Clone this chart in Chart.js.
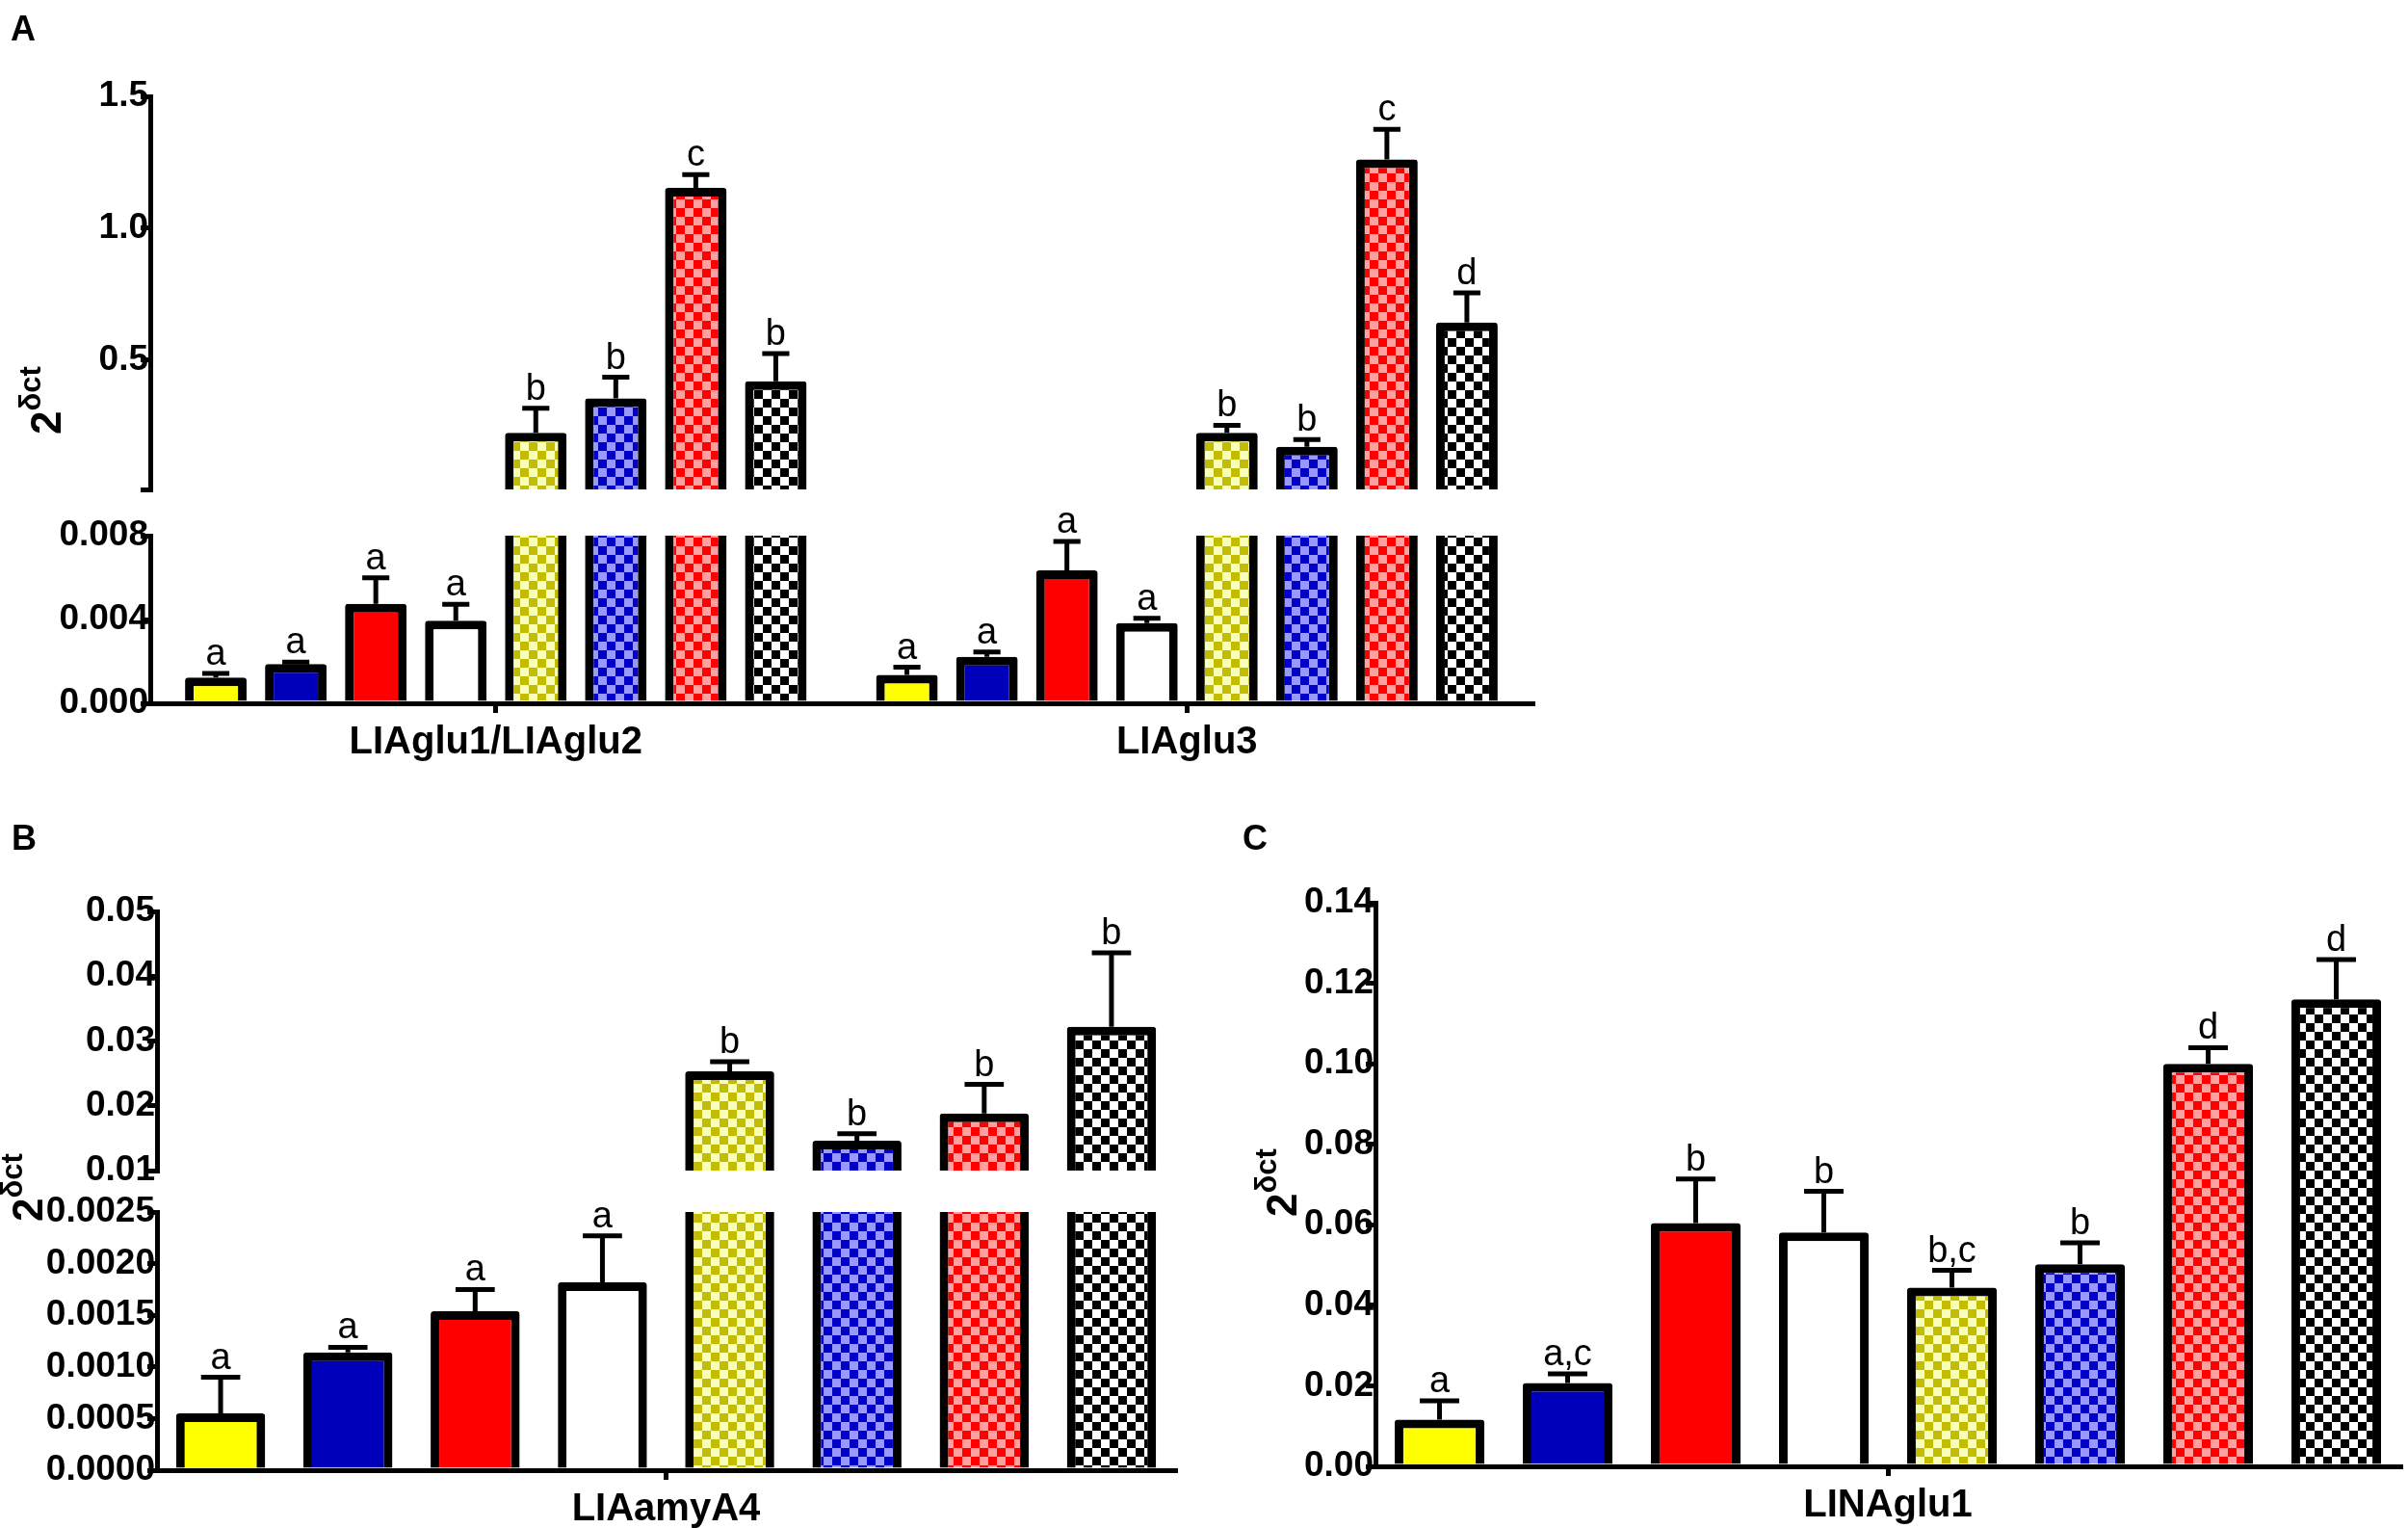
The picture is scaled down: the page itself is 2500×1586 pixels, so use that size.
<!DOCTYPE html>
<html>
<head>
<meta charset="utf-8">
<script src="https://cdn.jsdelivr.net/npm/chart.js@4"></script>
<style>
  html, body { margin: 0; padding: 0; background: #fff; }
  #page { position: relative; width: 2500px; height: 1586px; overflow: hidden;
          font-family: "Liberation Sans", Arial, sans-serif; color: #000; }
  #page canvas { position: absolute; left: 0; top: 0; }
  .panel { position: absolute; font-weight: bold; font-size: 36px; line-height: 1; }
  .ytitle { position: absolute; white-space: nowrap; line-height: 1; font-weight: bold;
            font-size: 44px; transform: rotate(-90deg); transform-origin: left top; }
  .ytitle span { position: relative; top: -21px; font-size: 31px; }
</style>
</head>
<body>
<div id="page">
  <canvas id="aUp" width="2500" height="1586"></canvas>
  <canvas id="aLow" width="2500" height="1586"></canvas>
  <canvas id="bUp" width="2500" height="1586"></canvas>
  <canvas id="bLow" width="2500" height="1586"></canvas>
  <canvas id="cAll" width="2500" height="1586"></canvas>

  <div class="panel" style="left:11px; top:12px;">A</div>
  <div class="panel" style="left:12px; top:852px;">B</div>
  <div class="panel" style="left:1290px; top:852px;">C</div>

  <div class="ytitle" style="left:26px; top:451px;">2<span>δct</span></div>
  <div class="ytitle" style="left:7px; top:1268px;">2<span>δct</span></div>
  <div class="ytitle" style="left:1309px; top:1263px;">2<span>δct</span></div>
</div>

<script>
// ---------------- data ----------------
// panel A : two genes, 8 treatments each
const catsA = ["LIAglu1/LIAglu2", "LIAglu3"];
const meanA_glu12 = [0.00123, 0.00187, 0.00475, 0.00394, 0.225, 0.355, 1.153, 0.42];
const errA_glu12  = [0.0002, 0.0001, 0.00124, 0.00078, 0.093, 0.08, 0.05, 0.105];
const letA_glu12  = ["a", "a", "a", "a", "b", "b", "c", "b"];
const meanA_glu3  = [0.00136, 0.00222, 0.00634, 0.00383, 0.225, 0.172, 1.261, 0.643];
const errA_glu3   = [0.00036, 0.00023, 0.00138, 0.00023, 0.028, 0.027, 0.114, 0.112];
const letA_glu3   = ["a", "a", "a", "a", "b", "b", "c", "d"];

// panel B
const catsB = ["LIAamyA4"];
const meanB = [0.00055, 0.00114, 0.00154, 0.00182, 0.0253, 0.0146, 0.0188, 0.0322];
const errB  = [0.00035, 0.00005, 0.00021, 0.00045, 0.0015, 0.0011, 0.0045, 0.0114];
const letB  = ["a", "a", "a", "a", "b", "b", "b", "b"];

// panel C
const catsC = ["LINAglu1"];
const meanC = [0.0116, 0.0207, 0.0604, 0.0581, 0.0444, 0.0502, 0.100, 0.116];
const errC  = [0.0047, 0.0023, 0.011, 0.0102, 0.0043, 0.0053, 0.004, 0.0099];
const letC  = ["a", "a,c", "b", "b", "b,c", "b", "d", "d"];

// axis ticks (broken axes are split in two segments)
const ticksA_up   = [0.01, 0.5, 1.0, 1.5];
const labelsA_up  = ["", "0.5", "1.0", "1.5"];
const ticksA_low  = [0, 0.004, 0.008];
const labelsA_low = ["0.000", "0.004", "0.008"];
const ticksB_up   = [0.01, 0.02, 0.03, 0.04, 0.05];
const labelsB_up  = ["0.01", "0.02", "0.03", "0.04", "0.05"];
const ticksB_low  = [0, 0.0005, 0.001, 0.0015, 0.002, 0.0025];
const labelsB_low = ["0.0000", "0.0005", "0.0010", "0.0015", "0.0020", "0.0025"];
const ticksC      = [0, 0.02, 0.04, 0.06, 0.08, 0.10, 0.12, 0.14];
const labelsC     = ["0.00", "0.02", "0.04", "0.06", "0.08", "0.10", "0.12", "0.14"];

// ---------------- styles ----------------
const FONT = '"Liberation Sans", Arial, sans-serif';
// solid colours, or [dark, light] for a checker pattern
const barColors = [
  "#ffff00", "#0000bb", "#ff0000", "#ffffff",
  ["#c4bc00", "#f8ffb8"], ["#0000c8", "#9898ff"], ["#ff0000", "#ffa0a0"], ["#000000", "#ffffff"]
];

function checker(ctx, dark, light) {
  const t = document.createElement("canvas");
  t.width = t.height = 18;
  const c = t.getContext("2d");
  c.fillStyle = light; c.fillRect(0, 0, 18, 18);
  c.fillStyle = dark;  c.fillRect(0, 0, 9, 9); c.fillRect(9, 9, 9, 9);
  return ctx.createPattern(t, "repeat");
}

// error bars + significance letters, only in the segment that holds the bar top
const errorBars = {
  id: "errorBars",
  afterDatasetsDraw(chart) {
    const ctx = chart.ctx, y = chart.scales.y;
    ctx.save();
    ctx.strokeStyle = "#000";
    ctx.fillStyle = "#000";
    ctx.lineWidth = 5;
    ctx.font = "38px " + FONT;
    ctx.textAlign = "center";
    ctx.textBaseline = "alphabetic";
    chart.data.datasets.forEach((ds, i) => {
      chart.getDatasetMeta(i).data.forEach((bar, j) => {
        const v = ds.data[j];
        if (v < y.min || v > y.max) return;
        const top = y.getPixelForValue(v + ds.errs[j]);
        const half = bar.width * 0.22;
        ctx.beginPath();
        ctx.moveTo(bar.x, bar.y); ctx.lineTo(bar.x, top);
        ctx.moveTo(bar.x - half, top); ctx.lineTo(bar.x + half, top);
        ctx.stroke();
        ctx.fillText(ds.lets[j], bar.x, top - 9);
      });
    });
    ctx.restore();
  }
};

// box = plot area in page pixels
function barChart(id, o) {
  const ctx = document.getElementById(id).getContext("2d");
  const datasets = barColors.map((c, i) => ({
    data: o.means.map(m => m[i]),
    errs: o.errs.map(e => e[i]),
    lets: o.lets.map(l => l[i]),
    backgroundColor: Array.isArray(c) ? checker(ctx, c[0], c[1]) : c,
    borderColor: "#000",
    borderWidth: 9,
    borderSkipped: "start",
    borderRadius: { topLeft: 3, topRight: 3 },
    clip: { left: false, right: false, top: 0, bottom: 0 },
    categoryPercentage: o.catPct,
    barPercentage: o.barPct
  }));
  const xH = o.showX ? 70 : 0, yW = 150;
  return new Chart(ctx, {
    type: "bar",
    data: { labels: o.cats, datasets },
    plugins: [errorBars],
    options: {
      responsive: false,
      devicePixelRatio: 1,
      animation: false,
      events: [],
      layout: {
        padding: {
          left: o.box.l - yW,
          right: 2500 - o.box.r,
          top: o.box.t,
          bottom: 1586 - o.box.b - xH
        }
      },
      plugins: { legend: { display: false }, tooltip: { enabled: false } },
      scales: {
        x: {
          display: o.showX,
          offset: true,
          afterFit: s => { s.height = xH; },
          grid: { offset: false, drawOnChartArea: false, tickLength: 10, tickWidth: 5,
                  tickColor: "#000", lineWidth: 5, color: "#000" },
          border: { color: "#000", width: 5 },
          ticks: { color: "#000", padding: 7, maxRotation: 0,
                   font: { family: FONT, size: 40, weight: "bold" } }
        },
        y: {
          min: o.min,
          max: o.max,
          afterFit: s => { s.width = yW; },
          afterBuildTicks: s => { s.ticks = o.ticks.map(v => ({ value: v })); },
          grid: { drawOnChartArea: false, tickLength: 10, tickWidth: 5,
                  tickColor: "#000", lineWidth: 5, color: "#000" },
          border: { color: "#000", width: 5 },
          ticks: { color: "#000", padding: -8, autoSkip: false,
                   callback: (v, i) => o.tickLabels[i],
                   font: { family: FONT, size: 37, weight: "bold" } }
        }
      }
    }
  });
}

// ---------------- panels ----------------
const meansA = [meanA_glu12, meanA_glu3];
const errsA = [errA_glu12, errA_glu3];
const letsA = [letA_glu12, letA_glu3];

barChart("aUp", { cats: catsA, means: meansA, errs: errsA, lets: letsA,
  min: 0.01, max: 1.5, ticks: ticksA_up, tickLabels: labelsA_up,
  box: { l: 156, r: 1591, t: 100, b: 508 }, showX: false,
  catPct: 0.926, barPct: 0.77 });
barChart("aLow", { cats: catsA, means: meansA, errs: errsA, lets: letsA,
  min: 0, max: 0.008, ticks: ticksA_low, tickLabels: labelsA_low,
  box: { l: 156, r: 1591, t: 556, b: 730 }, showX: true,
  catPct: 0.926, barPct: 0.77 });

barChart("bUp", { cats: catsB, means: [meanB], errs: [errB], lets: [letB],
  min: 0.01, max: 0.05, ticks: ticksB_up, tickLabels: labelsB_up,
  box: { l: 163, r: 1220, t: 946, b: 1215 }, showX: false,
  catPct: 1.0, barPct: 0.70 });
barChart("bLow", { cats: catsB, means: [meanB], errs: [errB], lets: [letB],
  min: 0, max: 0.0025, ticks: ticksB_low, tickLabels: labelsB_low,
  box: { l: 163, r: 1220, t: 1258, b: 1526 }, showX: true,
  catPct: 1.0, barPct: 0.70 });

barChart("cAll", { cats: catsC, means: [meanC], errs: [errC], lets: [letC],
  min: 0, max: 0.14, ticks: ticksC, tickLabels: labelsC,
  box: { l: 1428, r: 2492, t: 937, b: 1522 }, showX: true,
  catPct: 1.0, barPct: 0.70 });
</script>
</body>
</html>
